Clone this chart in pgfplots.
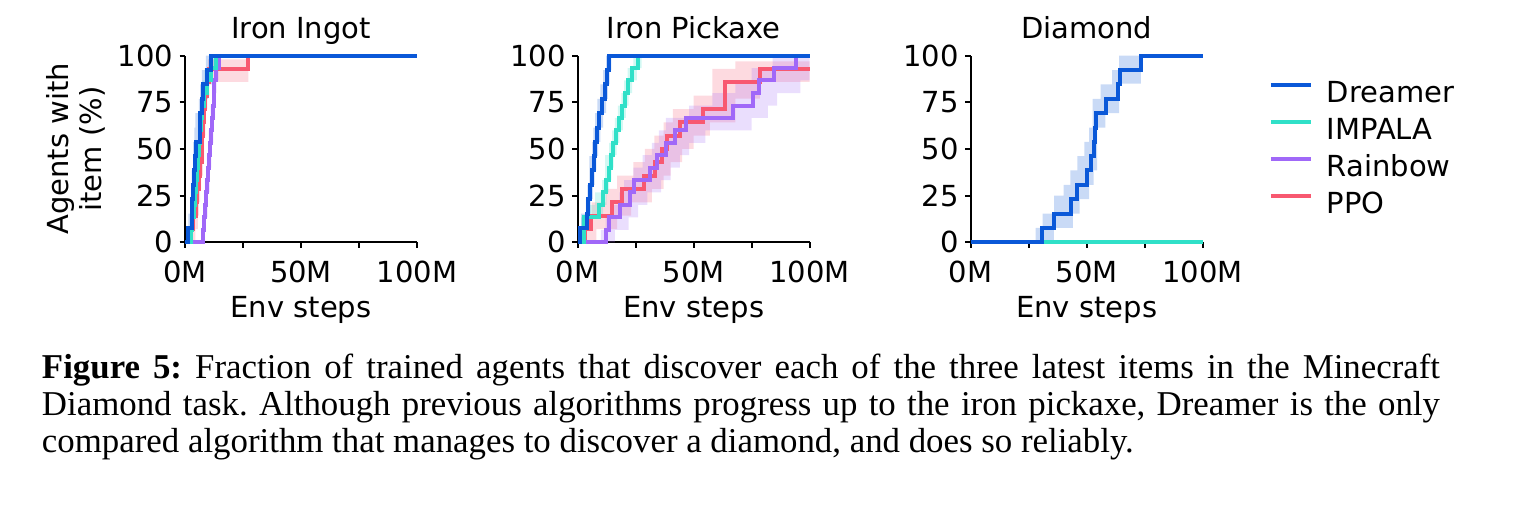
\documentclass[border=0pt]{standalone}
\usepackage{fontspec}
\setmainfont{DejaVu Sans}
\newfontfamily\capfont{Liberation Serif}
\usepackage{pgfplots}
\pgfplotsset{compat=1.18}
\usepgfplotslibrary{fillbetween}

\definecolor{cDre}{RGB}{10,88,216}
\definecolor{cImp}{RGB}{48,224,200}
\definecolor{cRai}{RGB}{160,104,248}
\definecolor{cPpo}{RGB}{248,88,112}

\pgfplotsset{
 panel/.style={
  scale only axis, width=69.6pt, height=55.98pt,
  xmin=0,xmax=100,ymin=0,ymax=100,
  axis x line*=bottom, axis y line*=left,
  axis line style={line width=0.6pt,-},
  every tick/.style={line width=0.6pt, black},
  major tick length=1.6pt,
  tick align=outside,
  xtick={0,25,50,75,100}, xticklabels={0M,,50M,,100M},
  ytick={0,25,50,75,100},
  font=\fontsize{8.7}{10.4}\selectfont,
  /pgf/number format/assume math mode=true,
  xticklabel style={anchor=base, inner sep=0pt, yshift=-10.4pt},
  yticklabel style={anchor=east, inner sep=0pt, xshift=-1.8pt},
  every axis title shift=0pt,
  title style={at={(axis description cs:0.5,1.0932)}, anchor=base, inner sep=0pt},
  xlabel={Env steps},
  xlabel style={at={(axis description cs:0.5,-0.4055)}, anchor=base, inner sep=0pt},
  clip=false,
 },
 ln/.style={const plot, line width=1.2pt, color=#1, forget plot},
 bd/.style={const plot, draw=none, forget plot},
 bf/.style={fill=#1, fill opacity=0.22, draw=none, forget plot},
}

\begin{document}
\frenchspacing
\begin{tikzpicture}

% ---------------- Iron Ingot ----------------
\begin{axis}[panel, at={(55.5pt,78.81pt)}, anchor=south west, title={Iron Ingot},
  ylabel={Agents with\\item (\%)},
  ylabel style={align=center, font=\fontsize{8.7}{9.9}\selectfont, at={(axis description cs:-0.342,0.5)}, anchor=south, inner sep=0pt}]
% bands
\addplot[bd, name path=pu] coordinates {(0,0)(1.5,7.1)(3.0,14.3)(4.0,21.4)(4.7,35.7)(5.5,42.9)(6.0,50)(6.8,64.3)(7.5,78.6)(8.3,85.7)(9.0,92.9)(10.0,98)(27.3,100)(100,100)};
\addplot[bd, name path=pl] coordinates {(0,0)(3.0,0)(4.5,7.1)(5.5,14.3)(6.0,21.4)(6.5,28.6)(7.0,35.7)(7.7,42.9)(8.2,57.1)(8.8,71.4)(9.6,78.6)(10.5,86)(27.3,100)(100,100)};
\addplot[bf=cPpo] fill between[of=pu and pl];
\addplot[bd, name path=ru] coordinates {(0,0)(7.2,6.7)(7.8,20)(8.6,33.3)(9.4,46.7)(10.2,60)(11.0,73.3)(11.8,86.7)(12.6,93.3)(13.8,100)(100,100)};
\addplot[bd, name path=rl] coordinates {(0,0)(8.5,6.7)(9.0,13.3)(9.8,26.7)(10.6,40)(11.4,53.3)(12.2,66.7)(13.0,80)(13.6,86.7)(14.5,93.3)(15.5,100)(100,100)};
\addplot[bf=cRai] fill between[of=ru and rl];
\addplot[bd, name path=iu] coordinates {(0,0)(1.8,6.7)(2.6,20)(3.5,33.3)(4.5,46.7)(5.5,60)(6.5,73.3)(7.5,86.7)(8.5,93.3)(10.5,100)(100,100)};
\addplot[bd, name path=il] coordinates {(0,0)(3.2,6.7)(4.0,13.3)(5.0,26.7)(6.0,40)(7.0,53.3)(8.0,66.7)(9.0,80)(10.0,86.7)(12.0,93.3)(14.0,100)(100,100)};
\addplot[bf=cImp] fill between[of=iu and il];
\addplot[bd, name path=du] coordinates {(0,0)(0.8,7.7)(1.5,15.4)(2.5,23.1)(2.9,38.5)(3.5,53.8)(4.0,61.5)(4.5,69.2)(6.0,76.9)(6.5,84.6)(7.3,92.3)(9.0,100)(100,100)};
\addplot[bd, name path=dl] coordinates {(0,0)(2.0,0)(3.2,7.7)(3.5,15.4)(4.0,23.1)(4.5,38.5)(5.2,46.2)(6.8,53.8)(7.3,61.5)(8.0,69.2)(8.5,76.9)(10.0,84.6)(11.8,92.3)(12.3,100)(100,100)};
\addplot[bf=cDre] fill between[of=du and dl];
% lines
\addplot[ln=cPpo] coordinates {(0,0)(2.1,7.1)(3.6,14.3)(4.6,21.4)(5.3,28.6)(5.9,35.7)(6.6,42.9)(7.3,50)(7.5,57.1)(7.9,64.3)(8.3,71.4)(8.7,78.6)(9.3,85.7)(10.5,92.9)(27.3,100)(100,100)};
\addplot[ln=cRai] coordinates {(0,0)(7.9,6.7)(8.3,13.3)(8.7,20)(9.1,26.7)(9.5,33.3)(9.9,40)(10.3,46.7)(10.7,53.3)(11.1,60)(11.5,66.7)(11.9,73.3)(12.3,80)(12.7,86.7)(13.2,93.3)(14.8,100)(100,100)};
\addplot[ln=cImp] coordinates {(0,0)(2.5,6.7)(3.2,13.3)(3.7,20)(4.1,26.7)(4.6,33.3)(5.0,40)(5.5,46.7)(6.0,53.3)(6.5,60)(7.0,66.7)(7.5,73.3)(8.2,80)(9.3,86.7)(11.0,93.3)(13.5,100)(100,100)};
\addplot[ln=cDre] coordinates {(0,0)(1.4,7.7)(2.9,15.4)(3.1,23.1)(3.5,30.8)(4.0,38.5)(4.3,46.2)(4.6,53.8)(6.4,61.5)(6.6,69.2)(7.4,76.9)(7.9,84.6)(9.6,92.3)(11.3,100)(100,100)};
\end{axis}

% ---------------- Iron Pickaxe ----------------
\begin{axis}[panel, at={(173.31pt,78.81pt)}, anchor=south west, title={Iron Pickaxe}]
\addplot[bd, name path=pu] coordinates {(0,0)(1.5,7.1)(3.0,14.3)(6,21.4)(12.0,28.6)(17,35.7)(24,42.9)(29,50)(33,57.1)(37,64.3)(41,71.4)(50,78.6)(58,92.9)(68,97)(100,97)};
\addplot[bd, name path=pl] coordinates {(0,0)(5,0)(8,7.1)(17,14.3)(23,21.4)(32,28.6)(37,35.7)(40,42.9)(45,50)(50,57.1)(57,64.3)(68,77)(78.5,86)(100,86)};
\addplot[bf=cPpo] fill between[of=pu and pl];
\addplot[bd, name path=ru] coordinates {(0,0)(10,6.7)(12,13.3)(14,20)(18,26.7)(20,33.3)(24,40)(28,46.7)(32,53.3)(35,60)(38,66.7)(48,73.3)(58,80)(68,86.7)(75,93.3)(84,100)(100,100)};
\addplot[bd, name path=rl] coordinates {(0,0)(14,0)(16,6.7)(22,13.3)(26,20)(30,26.7)(36,33.3)(40,40)(44,46.7)(48,53.3)(55,60)(75,66.7)(82,73.3)(86,80)(96,86.7)(100,86.7)};
\addplot[bf=cRai] fill between[of=ru and rl];
\addplot[bd, name path=iu] coordinates {(0,0)(1.5,13.3)(4.5,20)(7.5,26.7)(10.5,33.3)(11.8,46.7)(13.5,53.3)(14.8,60)(16.0,66.7)(17.3,73.3)(18.8,80)(20.0,86.7)(21.5,93.3)(24.0,100)(100,100)};
\addplot[bd, name path=il] coordinates {(0,0)(3.5,6.7)(6.0,13.3)(11.0,20)(12.5,26.7)(13.5,33.3)(14.5,40)(15.5,46.7)(16.8,53.3)(18.0,60)(19.5,66.7)(20.8,73.3)(22.0,80)(23.5,86.7)(25.5,93.3)(27.5,100)(100,100)};
\addplot[bf=cImp] fill between[of=iu and il];
\addplot[bd, name path=du] coordinates {(0,0)(0.5,7.7)(1.5,15.4)(3.5,23.1)(4.2,30.8)(5.0,46.2)(6.2,53.8)(6.8,61.5)(7.5,69.2)(8.5,76.9)(9.8,84.6)(11.0,92.3)(12.2,100)(100,100)};
\addplot[bd, name path=dl] coordinates {(0,0)(2.0,0)(3.0,7.7)(5.0,15.4)(5.6,23.1)(6.5,30.8)(7.3,38.5)(8.0,46.2)(8.8,53.8)(9.8,61.5)(11.0,69.2)(12.2,76.9)(13.0,84.6)(13.8,92.3)(14.5,100)(100,100)};
\addplot[bf=cDre] fill between[of=du and dl];
\addplot[ln=cPpo] coordinates {(0,0)(3.2,7.1)(5.7,14.3)(14.6,21.4)(19.0,28.6)(28.5,35.7)(33.5,42.9)(36.5,50)(38.5,57.1)(44.0,64.3)(54.0,71.4)(63.3,85.7)(78.5,92.9)(100,92.9)};
\addplot[ln=cRai] coordinates {(0,0)(12.3,6.7)(13.4,13.3)(18.2,20)(22.5,26.7)(24.3,33.3)(31.0,40)(34.0,46.7)(38.0,53.3)(42.0,60)(46.5,66.7)(67.0,73.3)(75.5,80)(78.0,86.7)(84.5,93.3)(94.3,100)(100,100)};
\addplot[ln=cImp] coordinates {(0,0)(2.6,13.3)(9.0,20)(11.0,26.7)(12.3,33.3)(13.3,40)(14.3,46.7)(15.2,53.3)(16.5,60)(17.8,66.7)(19.2,73.3)(20.5,80)(21.8,86.7)(23.3,93.3)(26.0,100)(100,100)};
\addplot[ln=cDre] coordinates {(0,0)(1.1,7.7)(4.0,15.4)(4.6,23.1)(5.3,30.8)(6.2,38.5)(6.9,46.2)(7.5,53.8)(8.2,61.5)(9.2,69.2)(10.6,76.9)(11.8,84.6)(12.6,92.3)(13.3,100)(100,100)};
\end{axis}

% ---------------- Diamond ----------------
\begin{axis}[panel, at={(291.21pt,78.81pt)}, anchor=south west, title={Diamond},
  legend style={at={(axis description cs:1.285,0.866)}, anchor=north west, draw=none, fill=none,
    inner sep=0pt, outer sep=0pt, row sep=2.6pt, column sep=4.2pt,
    nodes={inner sep=0pt, text height=6.6pt, text depth=1.9pt}},
  legend cell align=left,
  legend image code/.code={\draw[#1] (0pt,3pt) -- (12pt,3pt);}]
\addlegendimage{cDre, line width=1.2pt}
\addlegendimage{cImp, line width=1.2pt}
\addlegendimage{cRai, line width=1.2pt}
\addlegendimage{cPpo, line width=1.2pt}
\addplot[bd, name path=du] coordinates {(0,0)(28,7.7)(31,15.4)(36,25)(40,30.8)(43,38.5)(46,46.2)(49,53.8)(51,61.5)(52.5,76.9)(56,84.6)(61,92.3)(64,100)(100,100)};
\addplot[bd, name path=dl] coordinates {(0,0)(33,0)(35.8,7.7)(44,15.4)(47,23.1)(51,30.8)(53,38.5)(54.5,61.5)(58,69.2)(64,85)(73.3,100)(100,100)};
\addplot[bf=cDre] fill between[of=du and dl];
\addplot[ln=cPpo] coordinates {(0,0)(100,0)};
\addplot[ln=cRai] coordinates {(0,0)(100,0)};
\addplot[ln=cImp] coordinates {(0,0)(100,0)};
\addplot[ln=cDre] coordinates {(0,0)(30.7,7.7)(36.1,15.4)(43.3,23.1)(45.9,30.8)(50.2,38.5)(52.0,46.2)(53.0,53.8)(53.4,61.5)(53.8,69.2)(58.2,76.9)(63.7,84.6)(64.2,92.3)(73.3,100)(100,100)};
\legend{Dreamer,IMPALA,Rainbow,PPO}
\end{axis}

% ---------------- Caption ----------------
\begin{scope}[every node/.style={anchor=base west, inner sep=0pt, font=\capfont\fontsize{10.45}{11.1}\selectfont}]
\node at (12.4pt,38.0pt) {\makebox[419.4pt][s]{\textbf{Figure 5:} Fraction of trained agents that discover each of the three latest items in the Minecraft}};
\node at (12.4pt,26.8pt) {\makebox[419.4pt][s]{Diamond task. Although previous algorithms progress up to the iron pickaxe, Dreamer is the only}};
\node at (12.4pt,15.8pt) {compared algorithm that manages to discover a diamond, and does so reliably.};
\end{scope}
\pgfresetboundingbox
\useasboundingbox (0,0) rectangle (456.3pt,151.5pt);
\end{tikzpicture}
\end{document}
